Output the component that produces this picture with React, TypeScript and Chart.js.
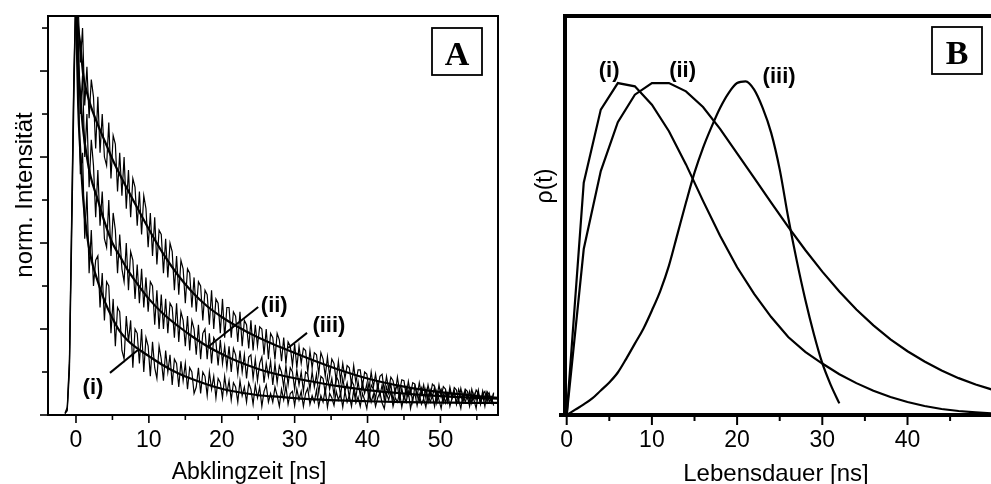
import React, { useEffect, useRef } from 'react';
import { Chart, registerables } from 'chart.js';

Chart.register(...registerables);

const SANS = '"Liberation Sans", Arial, sans-serif';
const SERIF = '"Liberation Serif", "Times New Roman", serif';

// ---------------- Panel A: decay curves ----------------
const A_T0 = -1.5; // ns, first channel
const A_DT = 0.3; // ns per channel

const DECAY_I = [
  0.004, 0.01, 0.1, 0.4, 0.72,
  1.0, 0.78, 0.56, 0.61, 0.41, 0.52, 0.33, 0.43, 0.30, 0.36,
  0.37, 0.25, 0.33, 0.22, 0.31, 0.30, 0.19, 0.27, 0.16, 0.25,
  0.24, 0.15, 0.13, 0.23, 0.17, 0.22, 0.11, 0.2, 0.19, 0.12,
  0.2, 0.1, 0.18, 0.16, 0.09, 0.17, 0.11, 0.085, 0.16, 0.13,
  0.08, 0.15, 0.1, 0.14, 0.07, 0.13, 0.12, 0.065, 0.125, 0.08,
  0.12, 0.06, 0.11, 0.1, 0.05, 0.065, 0.11, 0.05, 0.1, 0.09,
  0.045, 0.1, 0.06, 0.09, 0.04, 0.085, 0.075, 0.04, 0.09, 0.05,
  0.08, 0.035, 0.075, 0.065, 0.03, 0.08, 0.045, 0.065, 0.03, 0.075,
  0.06, 0.025, 0.07, 0.04, 0.065, 0.02, 0.055, 0.07, 0.03, 0.05,
  0.03, 0.065, 0.045, 0.02, 0.06, 0.035, 0.068, 0.025, 0.05, 0.055,
  0.022, 0.06, 0.035, 0.055, 0.02, 0.05, 0.062, 0.025, 0.045, 0.03,
  0.058, 0.02, 0.045, 0.03, 0.06, 0.018, 0.05, 0.04, 0.022, 0.055,
  0.035, 0.05, 0.018, 0.055, 0.03, 0.045, 0.02, 0.058, 0.028, 0.042,
  0.02, 0.05, 0.035, 0.015, 0.055, 0.03, 0.048, 0.02, 0.04, 0.052,
  0.028, 0.015, 0.05, 0.035, 0.055, 0.02, 0.04, 0.03, 0.052, 0.018,
  0.045, 0.03, 0.055, 0.015, 0.04, 0.05, 0.022, 0.048, 0.025, 0.038,
  0.018, 0.05, 0.03, 0.045, 0.02, 0.055, 0.035, 0.015, 0.048, 0.028,
  0.05, 0.02, 0.04, 0.055, 0.025, 0.035, 0.015, 0.05, 0.03, 0.045,
  0.02, 0.048, 0.035, 0.015, 0.05, 0.028, 0.045, 0.02, 0.052, 0.03,
  0.042, 0.022,
];

const DECAY_II = [
  0.003, 0.014, 0.12, 0.44, 0.77,
  1.0, 0.88, 0.7, 0.79, 0.6, 0.7, 0.53, 0.64, 0.58, 0.46,
  0.57, 0.44, 0.52, 0.41, 0.39, 0.5, 0.37, 0.47, 0.43, 0.33,
  0.42, 0.34, 0.31, 0.4, 0.29, 0.38, 0.36, 0.27, 0.35, 0.26,
  0.34, 0.25, 0.32, 0.24, 0.31, 0.3, 0.21, 0.29, 0.2, 0.28,
  0.2, 0.27, 0.19, 0.26, 0.25, 0.18, 0.26, 0.17, 0.24, 0.22,
  0.16, 0.23, 0.15, 0.22, 0.2, 0.14, 0.21, 0.13, 0.19, 0.2,
  0.13, 0.19, 0.12, 0.18, 0.17, 0.115, 0.175, 0.12, 0.16, 0.11,
  0.16, 0.1, 0.155, 0.14, 0.095, 0.15, 0.1, 0.14, 0.085, 0.135,
  0.14, 0.085, 0.13, 0.08, 0.12, 0.135, 0.075, 0.12, 0.09, 0.125,
  0.07, 0.12, 0.075, 0.115, 0.1, 0.065, 0.115, 0.07, 0.11, 0.1,
  0.06, 0.105, 0.07, 0.1, 0.055, 0.1, 0.095, 0.06, 0.1, 0.065,
  0.095, 0.05, 0.09, 0.085, 0.05, 0.09, 0.06, 0.085, 0.045, 0.09,
  0.08, 0.045, 0.085, 0.055, 0.075, 0.04, 0.08, 0.07, 0.04, 0.078,
  0.045, 0.075, 0.05, 0.072, 0.035, 0.07, 0.06, 0.038, 0.072, 0.045,
  0.07, 0.035, 0.065, 0.05, 0.072, 0.032, 0.06, 0.068, 0.035, 0.062,
  0.035, 0.065, 0.045, 0.06, 0.03, 0.068, 0.048, 0.032, 0.062, 0.04,
  0.06, 0.03, 0.058, 0.042, 0.065, 0.028, 0.052, 0.06, 0.03, 0.055,
  0.03, 0.058, 0.04, 0.055, 0.026, 0.06, 0.045, 0.03, 0.056, 0.038,
  0.055, 0.028, 0.05, 0.035, 0.058, 0.025, 0.048, 0.055, 0.03, 0.05,
  0.03, 0.052,
];

const DECAY_III = [
  0.005, 0.018, 0.13, 0.46, 0.79,
  1.0, 0.95, 0.82, 0.9, 0.72, 0.81, 0.69, 0.78, 0.74, 0.62,
  0.74, 0.61, 0.7, 0.6, 0.58, 0.68, 0.55, 0.65, 0.63, 0.52,
  0.61, 0.51, 0.6, 0.48, 0.57, 0.46, 0.55, 0.53, 0.44, 0.52,
  0.42, 0.51, 0.48, 0.39, 0.47, 0.37, 0.46, 0.35, 0.43, 0.42,
  0.33, 0.41, 0.32, 0.4, 0.38, 0.29, 0.37, 0.28, 0.36, 0.34,
  0.26, 0.34, 0.33, 0.25, 0.32, 0.24, 0.31, 0.3, 0.22, 0.29,
  0.28, 0.21, 0.29, 0.2, 0.27, 0.26, 0.19, 0.27, 0.18, 0.25,
  0.25, 0.18, 0.24, 0.23, 0.17, 0.24, 0.16, 0.22, 0.21, 0.155,
  0.22, 0.15, 0.21, 0.16, 0.205, 0.2, 0.14, 0.2, 0.13, 0.19,
  0.18, 0.13, 0.19, 0.175, 0.125, 0.18, 0.12, 0.17, 0.16, 0.115,
  0.165, 0.11, 0.16, 0.12, 0.155, 0.15, 0.1, 0.15, 0.11, 0.145,
  0.14, 0.095, 0.145, 0.13, 0.09, 0.135, 0.09, 0.13, 0.12, 0.08,
  0.125, 0.08, 0.12, 0.085, 0.115, 0.11, 0.07, 0.115, 0.075, 0.105,
  0.105, 0.065, 0.1, 0.095, 0.06, 0.1, 0.065, 0.095, 0.06, 0.09,
  0.095, 0.055, 0.09, 0.06, 0.088, 0.08, 0.05, 0.088, 0.055, 0.082,
  0.08, 0.045, 0.078, 0.05, 0.075, 0.072, 0.042, 0.075, 0.048, 0.07,
  0.04, 0.07, 0.045, 0.072, 0.066, 0.038, 0.07, 0.042, 0.066, 0.06,
  0.035, 0.065, 0.04, 0.064, 0.058, 0.032, 0.062, 0.038, 0.06, 0.055,
  0.032, 0.06, 0.038, 0.058, 0.05, 0.028, 0.056, 0.035, 0.054, 0.048,
  0.03, 0.05,
];

const FIT_T = [0, 0.3, 0.6, 1, 1.5, 2, 3, 4, 5, 6, 7, 8, 10, 12, 14, 16, 18, 20, 22, 25, 28, 32, 36, 40, 45, 50, 55, 58];
const FIT_I = [0.95, 0.72, 0.61, 0.5, 0.42, 0.37, 0.31, 0.262, 0.225, 0.195, 0.175, 0.16, 0.137, 0.115, 0.097, 0.083, 0.071, 0.061, 0.054, 0.046, 0.042, 0.037, 0.034, 0.032, 0.03, 0.029, 0.028, 0.028];
const FIT_II = [0.95, 0.82, 0.74, 0.66, 0.6, 0.555, 0.5, 0.445, 0.4, 0.37, 0.34, 0.315, 0.27, 0.235, 0.207, 0.182, 0.16, 0.142, 0.126, 0.107, 0.093, 0.079, 0.067, 0.058, 0.05, 0.044, 0.04, 0.038];
const FIT_III = [0.95, 0.9, 0.86, 0.79, 0.75, 0.72, 0.675, 0.635, 0.595, 0.56, 0.527, 0.495, 0.432, 0.374, 0.325, 0.285, 0.253, 0.228, 0.207, 0.18, 0.158, 0.131, 0.106, 0.085, 0.066, 0.053, 0.044, 0.04];

const A_X_MIN = -3.84;
const A_X_MAX = 57.9;
const A_Y_MAX = 0.928;
const A_X_LABELED = [0, 10, 20, 30, 40, 50];
const A_X_MINOR = [5, 15, 25, 35, 45, 55];
const A_Y_MAJOR = [0, 0.2, 0.4, 0.6, 0.8];
const A_Y_MINOR = [0.1, 0.3, 0.5, 0.7, 0.9];
const A_LABEL_TEXT = ['(i)', '(ii)', '(iii)'];
const A_LABEL_AT = [[2.33, 0.067], [27.2, 0.258], [34.7, 0.212]];
const A_LEADERS = [[4.66, 0.098, 8.5, 0.151], [18.1, 0.158, 25.0, 0.251], [29.1, 0.156, 31.7, 0.191]];

// ---------------- Panel B: lifetime distributions ----------------
const DIST_T_I = [0, 2, 4, 6, 8, 10, 12, 14, 16, 18, 20, 22, 24, 26, 28, 30, 32, 34, 36, 38, 40, 42, 44, 46, 48, 50];
const DIST_I = [0, 0.7, 0.92, 1.0, 0.99, 0.935, 0.855, 0.755, 0.645, 0.54, 0.445, 0.365, 0.295, 0.235, 0.19, 0.155, 0.123, 0.096, 0.073, 0.054, 0.039, 0.027, 0.018, 0.012, 0.008, 0.005];
const DIST_T_II = [0, 2, 4, 6, 8, 10, 12, 14, 16, 18, 20, 22, 24, 26, 28, 30, 32, 34, 36, 38, 40, 42, 44, 46, 48, 50];
const DIST_II = [0, 0.5, 0.735, 0.882, 0.965, 1.0, 1.0, 0.975, 0.928, 0.862, 0.788, 0.714, 0.64, 0.567, 0.497, 0.432, 0.372, 0.318, 0.27, 0.228, 0.192, 0.161, 0.134, 0.111, 0.092, 0.076];
const DIST_T_III = [0, 1, 2, 3, 4, 5, 6, 7, 8, 9, 10, 11, 12, 13, 14, 15, 16, 17, 18, 19, 20, 21, 22, 23, 24, 25, 26, 27, 28, 29, 30, 31, 32];
const DIST_III = [0, 0.016, 0.032, 0.05, 0.074, 0.098, 0.128, 0.17, 0.215, 0.26, 0.315, 0.375, 0.45, 0.545, 0.64, 0.73, 0.805, 0.868, 0.925, 0.97, 1.0, 1.005, 0.98, 0.925, 0.85, 0.74, 0.595, 0.465, 0.348, 0.245, 0.156, 0.09, 0.035];

const B_X_MIN = -0.2;
const B_X_MAX = 49.8;
const B_Y_MAX = 1.202;
const B_X_LABELED = [0, 10, 20, 30, 40];
const B_X_MINOR = [5, 15, 25, 35, 45];
const B_LABEL_TEXT = ['(i)', '(ii)', '(iii)'];
const B_LABEL_AT = [[4.98, 1.042], [13.6, 1.042], [24.93, 1.023]];

function line(ctx: CanvasRenderingContext2D, x1: number, y1: number, x2: number, y2: number) {
  ctx.beginPath();
  ctx.moveTo(x1, y1);
  ctx.lineTo(x2, y2);
  ctx.stroke();
}

function drawBox(ctx: CanvasRenderingContext2D, right: number, top: number, letter: string) {
  const w = 50, h = 47;
  ctx.fillStyle = '#fff';
  ctx.fillRect(right - w, top, w, h);
  ctx.strokeStyle = '#000';
  ctx.lineWidth = 1.8;
  ctx.strokeRect(right - w, top, w, h);
  ctx.fillStyle = '#000';
  ctx.font = `bold 34px ${SERIF}`;
  ctx.textAlign = 'center';
  ctx.textBaseline = 'alphabetic';
  ctx.fillText(letter, right - w / 2, top + 37);
}

const decorA = {
  id: 'decorA',
  afterDraw(chart: any) {
    const { ctx, chartArea: ca, scales } = chart;
    const x = scales.x, y = scales.y;
    ctx.save();
    ctx.strokeStyle = '#000';
    ctx.lineWidth = 2;
    ctx.strokeRect(ca.left, ca.top, ca.right - ca.left, ca.bottom - ca.top);
    ctx.lineWidth = 1.6;
    A_X_LABELED.forEach((v) => { const p = x.getPixelForValue(v); line(ctx, p, ca.bottom, p, ca.bottom + 8); });
    A_X_MINOR.forEach((v) => { const p = x.getPixelForValue(v); line(ctx, p, ca.bottom, p, ca.bottom + 5); });
    A_Y_MAJOR.forEach((v) => { const p = y.getPixelForValue(v); line(ctx, ca.left - 8, p, ca.left, p); });
    A_Y_MINOR.forEach((v) => { const p = y.getPixelForValue(v); line(ctx, ca.left - 6, p, ca.left, p); });

    ctx.fillStyle = '#000';
    ctx.font = `23px ${SANS}`;
    ctx.textAlign = 'center';
    ctx.textBaseline = 'alphabetic';
    ctx.fillText('Abklingzeit [ns]', 249, 479);
    ctx.save();
    ctx.translate(32, 195);
    ctx.rotate(-Math.PI / 2);
    ctx.font = `24px ${SANS}`;
    ctx.fillText('norm. Intensität', 0, 0);
    ctx.restore();

    ctx.lineWidth = 2;
    A_LEADERS.forEach((l) => {
      line(ctx, x.getPixelForValue(l[0]), y.getPixelForValue(l[1]), x.getPixelForValue(l[2]), y.getPixelForValue(l[3]));
    });
    ctx.font = `bold 22px ${SANS}`;
    ctx.textBaseline = 'middle';
    A_LABEL_TEXT.forEach((t, i) => {
      ctx.fillText(t, x.getPixelForValue(A_LABEL_AT[i][0]), y.getPixelForValue(A_LABEL_AT[i][1]) + 2);
    });
    drawBox(ctx, ca.right - 16, ca.top + 12, 'A');
    ctx.restore();
  },
};

const decorB = {
  id: 'decorB',
  afterDraw(chart: any) {
    const { ctx, chartArea: ca, scales } = chart;
    const x = scales.x, y = scales.y;
    ctx.save();
    ctx.strokeStyle = '#000';
    ctx.lineWidth = 4;
    ctx.beginPath();
    ctx.moveTo(ca.right + 2, ca.top);
    ctx.lineTo(ca.left, ca.top);
    ctx.lineTo(ca.left, ca.bottom);
    ctx.lineTo(ca.right + 2, ca.bottom);
    ctx.stroke();
    line(ctx, ca.left - 6, ca.bottom, ca.left, ca.bottom);
    ctx.lineWidth = 2;
    B_X_LABELED.forEach((v) => { const p = x.getPixelForValue(v); line(ctx, p, ca.bottom, p, ca.bottom + 10); });
    B_X_MINOR.forEach((v) => { const p = x.getPixelForValue(v); line(ctx, p, ca.bottom, p, ca.bottom + 6); });

    ctx.fillStyle = '#000';
    ctx.font = `24px ${SANS}`;
    ctx.textAlign = 'center';
    ctx.textBaseline = 'alphabetic';
    ctx.fillText('Lebensdauer [ns]', 276, 481);
    ctx.save();
    ctx.translate(52, 186);
    ctx.rotate(-Math.PI / 2);
    ctx.font = `23px ${SANS}`;
    ctx.fillText('ρ(t)', 0, 0);
    ctx.restore();

    ctx.font = `bold 22px ${SANS}`;
    ctx.textBaseline = 'middle';
    B_LABEL_TEXT.forEach((t, i) => {
      ctx.fillText(t, x.getPixelForValue(B_LABEL_AT[i][0]), y.getPixelForValue(B_LABEL_AT[i][1]) + 2);
    });
    drawBox(ctx, ca.right - 9, ca.top + 11, 'B');
    ctx.restore();
  },
};

const toXY = (ts: number[], vs: number[]) => vs.map((v, i) => ({ x: ts[i], y: v }));
const channels = (vs: number[]) => vs.map((v, i) => ({ x: A_T0 + i * A_DT, y: v }));

function noisy(data: number[]) {
  return {
    data: channels(data),
    borderColor: '#000',
    borderWidth: 1.2,
    pointRadius: 0,
    tension: 0,
    order: 1,
  };
}
function smooth(ts: number[], vs: number[], width: number) {
  return {
    data: toXY(ts, vs),
    borderColor: '#000',
    borderWidth: width,
    pointRadius: 0,
    cubicInterpolationMode: 'monotone' as const,
    order: 0,
  };
}

function xTicksConfig(values: number[], padding: number) {
  return {
    afterBuildTicks: (s: any) => { s.ticks = values.map((v) => ({ value: v })); },
    ticks: { color: '#000', font: { family: SANS, size: 23 }, padding, maxRotation: 0, autoSkip: false },
    grid: { display: false, drawTicks: false },
    border: { display: false },
  };
}

export default function App() {
  const refA = useRef<HTMLCanvasElement>(null);
  const refB = useRef<HTMLCanvasElement>(null);

  useEffect(() => {
    const chartA = new Chart(refA.current as HTMLCanvasElement, {
      type: 'line',
      data: {
        datasets: [
          smooth(FIT_T, FIT_I, 2.2),
          smooth(FIT_T, FIT_II, 2.2),
          smooth(FIT_T, FIT_III, 2.2),
          noisy(DECAY_I),
          noisy(DECAY_II),
          noisy(DECAY_III),
        ] as any,
      },
      options: {
        responsive: false,
        animation: false,
        events: [],
        layout: { padding: { left: 0, top: 16, right: 2, bottom: 0 } },
        plugins: { legend: { display: false }, tooltip: { enabled: false } },
        scales: {
          x: {
            type: 'linear',
            min: A_X_MIN,
            max: A_X_MAX,
            afterFit: (s: any) => { s.height = 69; },
            ...xTicksConfig(A_X_LABELED, 12),
          },
          y: {
            type: 'linear',
            min: 0,
            max: A_Y_MAX,
            afterFit: (s: any) => { s.width = 48; },
            ticks: { display: false },
            grid: { display: false, drawTicks: false },
            border: { display: false },
          },
        },
      } as any,
      plugins: [decorA],
    });

    const chartB = new Chart(refB.current as HTMLCanvasElement, {
      type: 'line',
      data: {
        datasets: [
          { data: toXY(DIST_T_I, DIST_I), borderColor: '#000', borderWidth: 2.2, pointRadius: 0, tension: 0 },
          { data: toXY(DIST_T_II, DIST_II), borderColor: '#000', borderWidth: 2.2, pointRadius: 0, tension: 0 },
          { data: toXY(DIST_T_III, DIST_III), borderColor: '#000', borderWidth: 2.2, pointRadius: 0, cubicInterpolationMode: 'monotone' },
        ] as any,
      },
      options: {
        responsive: false,
        animation: false,
        events: [],
        layout: { padding: { left: 0, top: 16, right: 0, bottom: 0 } },
        plugins: { legend: { display: false }, tooltip: { enabled: false } },
        scales: {
          x: {
            type: 'linear',
            min: B_X_MIN,
            max: B_X_MAX,
            afterFit: (s: any) => { s.height = 69; },
            ...xTicksConfig(B_X_LABELED, 12),
          },
          y: {
            type: 'linear',
            min: 0,
            max: B_Y_MAX,
            afterFit: (s: any) => { s.width = 65; },
            ticks: { display: false },
            grid: { display: false, drawTicks: false },
            border: { display: false },
          },
        },
      } as any,
      plugins: [decorB],
    });

    return () => {
      chartA.destroy();
      chartB.destroy();
    };
  }, []);

  return (
    <div style={{ position: 'fixed', left: 0, top: 0, width: 991, height: 484, background: '#fff', overflow: 'hidden' }}>
      <canvas ref={refA} width={500} height={484} style={{ position: 'absolute', left: 0, top: 0, display: 'block' }} />
      <canvas ref={refB} width={491} height={484} style={{ position: 'absolute', left: 500, top: 0, display: 'block' }} />
    </div>
  );
}
